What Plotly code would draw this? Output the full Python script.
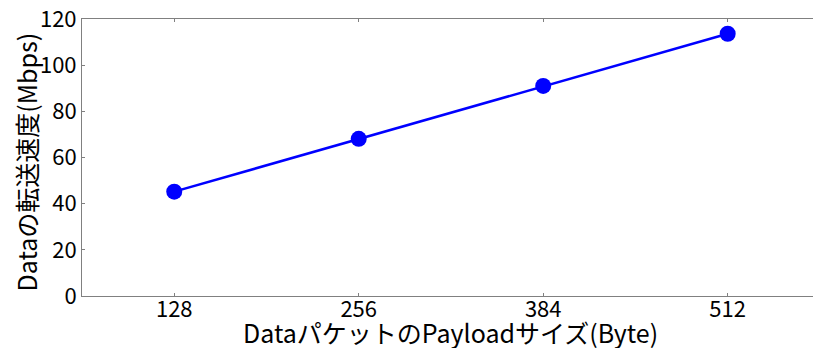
import plotly.graph_objects as go

payload_sizes = [128, 256, 384, 512]
throughput_mbps = [45.2, 68.1, 91.0, 113.6]
y_ticks = [0, 20, 40, 60, 80, 100, 120]

x_title = "DataパケットのPayloadサイズ(Byte)"
y_title = "Dataの転送速度(Mbps)"

FONT = "Noto Sans CJK JP"
AXIS_COLOR = "#808080"

fig = go.Figure()
fig.add_trace(go.Scatter(
    x=payload_sizes, y=throughput_mbps,
    mode="lines+markers",
    line=dict(color="#0000ff", width=2.5),
    marker=dict(color="#0000ff", size=16),
    showlegend=False, cliponaxis=False,
))

fig.update_layout(
    width=813, height=348,
    margin=dict(l=82, r=0, t=19, b=52, autoexpand=False),
    paper_bgcolor="white", plot_bgcolor="white",
    font=dict(family=FONT, size=22, color="black"),
    xaxis=dict(
        range=[64, 571.2], tickmode="array", tickvals=payload_sizes,
        ticktext=[str(v) for v in payload_sizes],
        showgrid=False, zeroline=False, automargin=False,
        showline=True, linecolor=AXIS_COLOR, linewidth=1,
        mirror="ticks", ticks="inside", ticklen=3, tickcolor=AXIS_COLOR,
        tickfont=dict(family=FONT, size=22, color="black"),
        ticklabelstandoff=-6, ticklabeloverflow="allow",
    ),
    yaxis=dict(
        range=[0, 120], tickmode="array", tickvals=y_ticks,
        showgrid=False, zeroline=False, automargin=False,
        showline=True, linecolor=AXIS_COLOR, linewidth=1,
        mirror=False, ticks="inside", ticklen=3, tickcolor=AXIS_COLOR,
        tickfont=dict(family=FONT, size=22, color="black"),
        ticklabeloverflow="allow",
    ),
    annotations=[
        dict(text=x_title, xref="x", yref="paper", x=320, y=0,
             xanchor="center", yanchor="middle", yshift=-36, showarrow=False,
             font=dict(family=FONT, size=25, color="black")),
        dict(text=y_title, xref="paper", yref="paper", x=0, y=0.5,
             xanchor="center", yanchor="middle", xshift=-57, yshift=-5,
             textangle=-90, showarrow=False,
             font=dict(family=FONT, size=25, color="black")),
    ],
)

fig.write_html(
    "out.html",
    config={"responsive": False, "displayModeBar": False},
    post_script="document.body.style.margin='0';document.body.style.overflow='hidden';",
)
